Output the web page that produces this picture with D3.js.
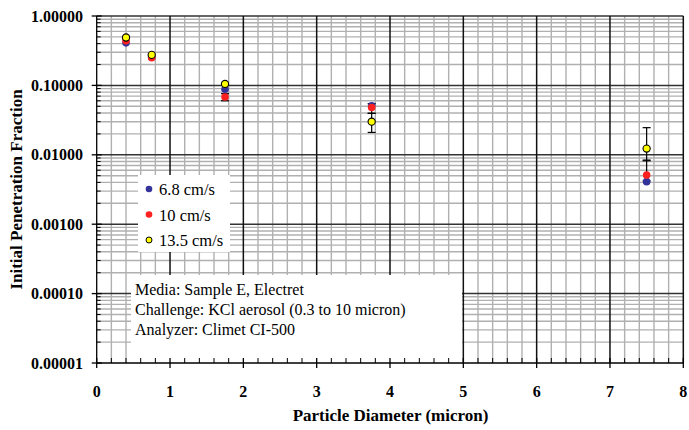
<!DOCTYPE html>
<html>
<head>
<meta charset="utf-8">
<script src="https://cdn.jsdelivr.net/npm/d3@7"></script>
<style>
  html, body { margin: 0; padding: 0; background: #fff; }
  svg { display: block; }
  text { font-family: "Liberation Serif", "Times New Roman", serif; }
</style>
</head>
<body>
<svg id="chart" width="689" height="430"></svg>
<script>
// Particle diameters (micron)
const diameters = [0.4, 0.75, 1.75, 3.75, 7.5];

// Initial penetration fraction per face velocity
const seriesNames = ["6.8 cm/s", "10 cm/s", "13.5 cm/s"];
const pen68  = [0.41, 0.255, 0.088, 0.051, 0.0041];
const pen10  = [0.44, 0.25, 0.068, 0.048, 0.0051];
const pen135 = [0.49, 0.275, 0.105, 0.030, 0.0123];

// Error bar limits (null = no bar shown)
const err10Low   = [null, null, 0.060, 0.0396, 0.0042];
const err10High  = [null, null, 0.076, 0.0546, 0.0082];
const err135Low  = [null, null, null, 0.021, 0.0084];
const err135High = [null, null, null, 0.0396, 0.0246];

const seriesColors = ["#333399", "#ff2020", "#ffff00"];

// Axis ticks
const xTicks = [0, 1, 2, 3, 4, 5, 6, 7, 8];
const yTicks = [0.00001, 0.0001, 0.001, 0.01, 0.1, 1];
const yTickLabels = ["0.00001", "0.00010", "0.00100", "0.01000", "0.10000", "1.00000"];

const notes = [
  "Media: Sample E, Electret",
  "Challenge: KCl aerosol (0.3 to 10 micron)",
  "Analyzer: Climet CI-500"
];

const svg = d3.select("#chart");
const pLeft = 96.7, pRight = 683.3, pTop = 16, pBottom = 363;

const x = d3.scaleLinear().domain([0, 8]).range([pLeft, pRight]);
const y = d3.scaleLog().domain([1e-5, 1]).range([pBottom, pTop]);

// Minor grid
const xMinor = d3.range(0, 40).map(i => i * 0.2).filter(v => Math.abs(v - Math.round(v)) > 1e-6);
const yMinor = [];
for (let e = -5; e < 0; e++) for (let k = 2; k <= 9; k++) yMinor.push(k * Math.pow(10, e));

const grid = svg.append("g");
grid.selectAll(".vminor").data(xMinor).join("line")
  .attr("x1", d => x(d)).attr("x2", d => x(d)).attr("y1", pTop).attr("y2", pBottom)
  .attr("stroke", "#b0b0b0").attr("stroke-width", 1.4);
grid.selectAll(".hminor").data(yMinor).join("line")
  .attr("x1", pLeft).attr("x2", pRight).attr("y1", d => y(d)).attr("y2", d => y(d))
  .attr("stroke", "#b0b0b0").attr("stroke-width", 1.4);
// Major grid
grid.selectAll(".hmajor").data(yTicks.slice(1)).join("line")
  .attr("x1", pLeft).attr("x2", pRight).attr("y1", d => y(d)).attr("y2", d => y(d))
  .attr("stroke", "#333").attr("stroke-width", 1.5);
grid.selectAll(".vmajor").data(xTicks.slice(1)).join("line")
  .attr("x1", d => x(d)).attr("x2", d => x(d)).attr("y1", pTop).attr("y2", pBottom)
  .attr("stroke", "#111").attr("stroke-width", 1.5);

// Annotation box and legend box (white, borderless)
svg.append("rect").attr("x", 131).attr("y", 275).attr("width", 331).attr("height", 88).attr("fill", "#fff");
svg.append("rect").attr("x", 138).attr("y", 175).attr("width", 92).attr("height", 77).attr("fill", "#fff");

// Axes
const axisG = svg.append("g");
axisG.append("line").attr("x1", pLeft).attr("x2", pRight).attr("y1", pBottom).attr("y2", pBottom)
  .attr("stroke", "#000").attr("stroke-width", 1.3);
axisG.append("line").attr("x1", pLeft).attr("x2", pLeft).attr("y1", pTop).attr("y2", pBottom)
  .attr("stroke", "#000").attr("stroke-width", 1.3);
// x ticks: major crossing, minor inside
axisG.selectAll(".xt").data(xTicks).join("line")
  .attr("x1", d => x(d)).attr("x2", d => x(d)).attr("y1", pBottom - 5).attr("y2", pBottom + 5)
  .attr("stroke", "#000").attr("stroke-width", 1.3);
axisG.selectAll(".xmt").data(xMinor).join("line")
  .attr("x1", d => x(d)).attr("x2", d => x(d)).attr("y1", pBottom - 5).attr("y2", pBottom)
  .attr("stroke", "#000").attr("stroke-width", 1);
axisG.selectAll(".yt").data(yTicks).join("line")
  .attr("x1", pLeft - 5).attr("x2", pLeft + 5).attr("y1", d => y(d)).attr("y2", d => y(d))
  .attr("stroke", "#000").attr("stroke-width", 1.3);
axisG.selectAll(".ymt").data(yMinor).join("line")
  .attr("x1", pLeft).attr("x2", pLeft + 4).attr("y1", d => y(d)).attr("y2", d => y(d))
  .attr("stroke", "#000").attr("stroke-width", 1);

// Tick labels
axisG.selectAll(".xl").data(xTicks).join("text")
  .attr("x", d => x(d)).attr("y", 397).attr("text-anchor", "middle")
  .attr("font-size", 16).attr("font-weight", "bold").text(d => d);
axisG.selectAll(".yl").data(yTicks).join("text")
  .attr("x", 83).attr("y", d => y(d)).attr("dy", "0.35em").attr("text-anchor", "end")
  .attr("font-size", 16).attr("font-weight", "bold").text((d, i) => yTickLabels[i]);

// Axis titles
svg.append("text").attr("x", (pLeft + pRight) / 2 + 0.5).attr("y", 421).attr("text-anchor", "middle")
  .attr("font-size", 17).attr("font-weight", "bold").text("Particle Diameter (micron)");
svg.append("text").attr("transform", `translate(22,${(pTop + pBottom) / 2}) rotate(-90)`)
  .attr("text-anchor", "middle").attr("font-size", 17).attr("font-weight", "bold")
  .text("Initial Penetration Fraction");

// Error bars
function errorBars(lows, highs) {
  const g = svg.append("g").attr("stroke", "#000").attr("stroke-width", 1.2);
  diameters.forEach((d, i) => {
    const lo = lows[i], hi = highs[i];
    if (lo == null && hi == null) return;
    const cx = x(d);
    const y1 = y(lo != null ? lo : hi), y2 = y(hi != null ? hi : lo);
    g.append("line").attr("x1", cx).attr("x2", cx).attr("y1", y1).attr("y2", y2);
    [lo, hi].forEach(v => {
      if (v == null) return;
      g.append("line").attr("x1", cx - 4).attr("x2", cx + 4).attr("y1", y(v)).attr("y2", y(v));
    });
  });
}
errorBars(err10Low, err10High);
errorBars(err135Low, err135High);

// Markers
const seriesData = [pen68, pen10, pen135];
seriesData.forEach((vals, si) => {
  svg.append("g").selectAll("circle").data(vals).join("circle")
    .attr("cx", (d, i) => x(diameters[i])).attr("cy", d => y(d)).attr("r", si === 2 ? 3.6 : 3.8)
    .attr("fill", seriesColors[si])
    .attr("stroke", si === 2 ? "#000" : "none").attr("stroke-width", 1.1);
});

// Legend
const legend = svg.append("g");
seriesNames.forEach((name, i) => {
  const cy = 189 + i * 25.5;
  legend.append("circle").attr("cx", 149).attr("cy", cy).attr("r", i === 2 ? 3 : 3.3)
    .attr("fill", seriesColors[i]).attr("stroke", i === 2 ? "#000" : "none").attr("stroke-width", 1);
  legend.append("text").attr("x", 159).attr("y", cy + 6).attr("font-size", 16.5).text(name);
});

// Notes
svg.append("g").selectAll("text").data(notes).join("text")
  .attr("x", 135).attr("y", (d, i) => 295 + i * 20).attr("font-size", 16).text(d => d);
</script>
</body>
</html>
